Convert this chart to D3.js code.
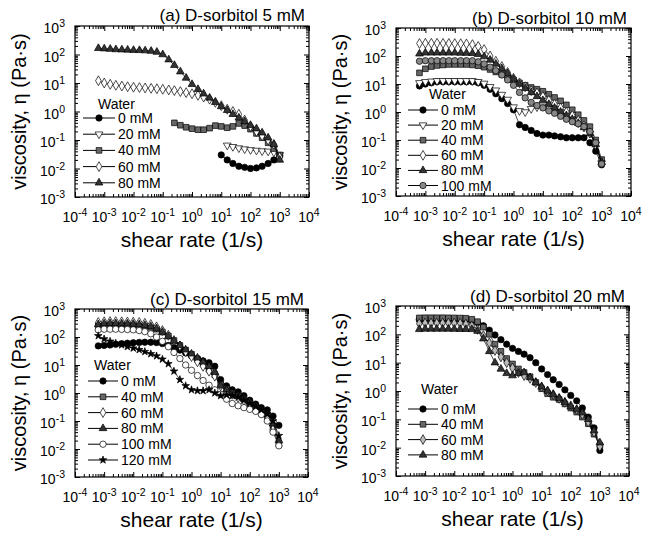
<!DOCTYPE html>
<html>
<head>
<meta charset="utf-8">
<script src="https://cdn.jsdelivr.net/npm/d3@7"></script>
<style>
body { margin: 0; background: #fff; }
text { font-family: "Liberation Sans", Arial, sans-serif; fill: #000; }
</style>
</head>
<body>
<svg id="chart" width="653" height="533"></svg>
<script>
var _ = null;

// shear rate grid (1/s), shared by every series
var shearRate = [0.00063, 0.001, 0.0016, 0.0025, 0.004, 0.0063, 0.01, 0.016, 0.025, 0.04, 0.063, 0.1,
	0.16, 0.25, 0.4, 0.63, 1, 1.6, 2.5, 4, 6.3, 10, 16, 25, 40, 63, 100, 160, 250, 400, 630, 1000];

var xTickValues = [1e-4, 1e-3, 1e-2, 1e-1, 1, 1e1, 1e2, 1e3, 1e4];
var xTickExp = ["-4", "-3", "-2", "-1", "0", "1", "2", "3", "4"];
var yTickValues = [1e-3, 1e-2, 1e-1, 1, 1e1, 1e2, 1e3];
var yTickExp = ["-3", "-2", "-1", "0", "1", "2", "3"];

// (a) D-sorbitol 5 mM, viscosity (Pa.s)
var a0 = [_,_,_,_,_,_,_,_,_,_,_,_,_,_,_,_,_,_,_,_,_, 0.03,0.02,0.015,0.012,0.011,0.01,0.0105,0.012,0.015,0.02,0.028];
var a20 = [_,_,_,_,_,_,_,_,_,_,_,_,_,_,_,_,_,_,_,_,_,_, 0.065,0.058,0.052,0.048,0.045,0.043,0.041,0.04,0.037,0.03];
var a40 = [_,_,_,_,_,_,_,_,_,_,_,_,_, 0.4,0.33,0.28,0.25,0.23,0.23,0.26,0.32,0.3,0.27,0.3,0.38,0.32,0.24,0.17,0.12,0.08,0.05,0.03];
var a60 = [12,10,9,8.3,7.8,7.4,7.1,6.9,6.7,6.5,6.3,6.0,5.7,5.4,5.0,4.6,4.2,3.7,3.2,2.7,2.1,1.6,1.2,1.0,0.8,0.5,0.3,0.2,0.14,0.1,0.07,0.025];
var a80 = [165,160,155,150,148,145,142,140,137,132,122,100,66,42,25,15,9,6,4.2,3,2.1,1.5,1.1,0.8,0.6,0.45,0.33,0.25,0.18,0.12,0.07,0.02];

// (b) D-sorbitol 10 mM
var b0 = [8.5,10,11,12,12,12,12,12,12,12,11,9,6.5,4.5,3,2,1.2,0.35,0.28,0.22,0.17,0.15,0.15,0.14,0.13,0.12,0.12,0.12,0.12,0.08,0.04,0.013];
var b20 = [11,12,12.5,13,13,13,13,13,13,13,12,10.5,8,6,4.2,2.8,1.5,1.1,1.0,1.3,1.5,1.6,1.5,1.3,1.0,0.75,0.55,0.4,0.28,0.17,0.07,0.015];
var b40 = [25,35,42,46,48,50,50,50,50,48,45,40,33,27,22,18,14,11,9,7.5,6.5,5.5,4.3,3.3,2.5,1.8,1.2,0.8,0.5,0.3,0.1,0.02];
var b60 = [280,285,285,285,283,280,278,275,270,255,220,170,100,65,42,26,16,11,8,5.8,4.8,3.6,2.6,1.9,1.4,1.0,0.75,0.5,0.32,0.18,0.07,0.015];
var b80 = [120,130,130,130,130,130,130,128,127,125,115,95,72,52,36,24,15,10,7,5,3.6,2.6,1.9,1.4,1.0,0.75,0.55,0.4,0.28,0.17,0.07,0.016];
var b100 = [65,68,68,68,68,68,68,68,68,68,62,52,40,30,21,14,9,5,3.2,2.2,1.7,1.4,1.1,0.9,0.7,0.55,0.45,0.38,0.3,0.2,0.08,0.014];

// (c) D-sorbitol 15 mM
var c0 = [48,50,52,55,58,60,62,64,65,65,63,58,50,42,34,27,21,17,14,12,9,3,1.8,1.3,1.1,0.8,0.55,0.4,0.3,0.25,0.15,0.07];
var c40 = [250,260,265,265,262,258,255,250,240,220,190,150,110,75,50,34,24,16,11,7,4.5,2,1.4,1.0,0.8,0.6,0.45,0.32,0.22,0.13,0.05,0.015];
var c60 = [330,350,355,355,350,345,340,330,310,280,230,170,115,75,48,30,20,13,9,6,4,1.8,1.2,0.9,0.7,0.55,0.42,0.3,0.2,0.12,0.05,0.02];
var c80 = [280,300,305,305,300,295,290,280,265,240,200,150,105,72,50,35,25,18,13,9,5.5,1.8,1.3,1.0,0.8,0.62,0.48,0.36,0.26,0.18,0.08,0.02];
var c100 = [180,190,190,190,188,185,180,170,155,130,100,70,45,28,17,10,6.5,4.2,2.8,1.9,1.3,0.9,0.6,0.42,0.35,0.3,0.26,0.22,0.17,0.1,0.04,0.013];
var c120 = [110,85,70,60,52,45,40,35,30,25,21,16,11,6,3,1.8,1.3,1.2,1.2,1.3,1.0,0.8,0.85,0.8,0.7,0.55,0.42,0.33,0.25,0.18,0.1,0.03];

// (d) D-sorbitol 20 mM
var d0 = [330,330,330,330,330,330,328,325,320,300,260,200,140,95,65,45,32,25,20,15,10,6,3.8,2.5,1.7,1.1,0.7,0.45,0.25,0.12,0.05,0.008];
var d40 = [380,385,385,385,385,383,380,375,370,340,280,180,100,45,25,14,9,6,4.5,3.2,2.0,1.2,0.8,0.6,0.5,0.35,0.25,0.18,0.12,0.07,0.03,0.012];
var d60 = [240,250,250,250,250,250,248,245,230,200,150,90,50,27,16,10,6.5,4.5,3.5,2.8,2.0,1.4,1.0,0.75,0.55,0.4,0.3,0.22,0.15,0.08,0.035,0.011];
var d80 = [150,155,155,155,155,155,153,152,151,150,130,70,25,10,6,4.2,3.5,4.2,4.5,3,2,1.4,1.0,0.75,0.55,0.4,0.28,0.22,0.17,0.1,0.04,0.015];

var symInvTri = {
	draw: function(ctx, size) {
		var s = Math.sqrt(size / (Math.sqrt(3) / 4));
		var h = s * Math.sqrt(3) / 2;
		ctx.moveTo(-s / 2, -h / 3);
		ctx.lineTo(s / 2, -h / 3);
		ctx.lineTo(0, 2 * h / 3);
		ctx.closePath();
	}
};

var panels = [
	{ title: "(a) D-sorbitol 5 mM", box: [75, 26, 309, 197], titleY: 21,
		legend: { x1: 83, x2: 115, wx: 98, wy: 109, y0: 118, dy: 16.2 },
		series: [
			["0 mM", a0, d3.symbolCircle, "#000"],
			["20 mM", a20, symInvTri, "#fff"],
			["40 mM", a40, d3.symbolSquare, "#666"],
			["60 mM", a60, d3.symbolDiamond, "#fff"],
			["80 mM", a80, d3.symbolTriangle, "#333"]
		] },
	{ title: "(b) D-sorbitol 10 mM", box: [396, 28, 631, 196], titleY: 24,
		legend: { x1: 408, x2: 438, wx: 429, wy: 99, y0: 110, dy: 15.1 },
		series: [
			["0 mM", b0, d3.symbolCircle, "#000"],
			["20 mM", b20, symInvTri, "#fff"],
			["40 mM", b40, d3.symbolSquare, "#666"],
			["60 mM", b60, d3.symbolDiamond, "#fff"],
			["80 mM", b80, d3.symbolTriangle, "#333"],
			["100 mM", b100, d3.symbolCircle, "#888"]
		] },
	{ title: "(c) D-sorbitol 15 mM", box: [75, 309, 308, 477], titleY: 305,
		legend: { x1: 88, x2: 118, wx: 94, wy: 370, y0: 381, dy: 15.8 },
		series: [
			["0 mM", c0, d3.symbolCircle, "#000"],
			["40 mM", c40, d3.symbolSquare, "#666"],
			["60 mM", c60, d3.symbolDiamond, "#fff"],
			["80 mM", c80, d3.symbolTriangle, "#333"],
			["100 mM", c100, d3.symbolCircle, "#fff"],
			["120 mM", c120, d3.symbolStar, "#000"]
		] },
	{ title: "(d) D-sorbitol 20 mM", box: [396, 306, 629, 476], titleY: 302,
		legend: { x1: 408, x2: 438, wx: 421, wy: 394, y0: 409, dy: 15.3 },
		series: [
			["0 mM", d0, d3.symbolCircle, "#000"],
			["40 mM", d40, d3.symbolSquare, "#666"],
			["60 mM", d60, d3.symbolDiamond, "#bbb"],
			["80 mM", d80, d3.symbolTriangle, "#333"]
		] }
];

var symSize = function(sym) {
	if (sym === d3.symbolCircle) return 32;
	if (sym === d3.symbolSquare) return 32;
	if (sym === d3.symbolDiamond) return 28;
	if (sym === d3.symbolStar) return 18;
	return 26;
};

// minor log ticks 2..9 in every decade
function minorTicks(lo, hi) {
	var out = [];
	for (var k = lo; k < hi; k++) {
		for (var m = 2; m <= 9; m++) out.push(m * Math.pow(10, k));
	}
	return out;
}

var svg = d3.select("#chart");

panels.forEach(function(p) {
	var L = p.box[0], T = p.box[1], R = p.box[2], B = p.box[3];
	var x = d3.scaleLog().domain([1e-4, 1e4]).range([L, R]);
	var y = d3.scaleLog().domain([1e-3, 1e3]).range([B, T]);
	var g = svg.append("g");

	var xMinor = minorTicks(-4, 4), yMinor = minorTicks(-3, 3);
	function axisG(axis, tx, ty) {
		g.append("g").attr("transform", "translate(" + tx + "," + ty + ")")
			.call(axis)
			.call(function(s) { s.select(".domain").remove(); s.selectAll("line").attr("stroke", "#000"); });
	}
	axisG(d3.axisBottom(x).tickValues(xTickValues).tickSize(-5).tickFormat(""), 0, B);
	axisG(d3.axisBottom(x).tickValues(xMinor).tickSize(-3).tickFormat(""), 0, B);
	axisG(d3.axisTop(x).tickValues(xTickValues).tickSize(-5).tickFormat(""), 0, T);
	axisG(d3.axisTop(x).tickValues(xMinor).tickSize(-3).tickFormat(""), 0, T);
	axisG(d3.axisLeft(y).tickValues(yTickValues).tickSize(-5).tickFormat(""), L, 0);
	axisG(d3.axisLeft(y).tickValues(yMinor).tickSize(-3).tickFormat(""), L, 0);
	axisG(d3.axisRight(y).tickValues(yTickValues).tickSize(-5).tickFormat(""), R, 0);
	axisG(d3.axisRight(y).tickValues(yMinor).tickSize(-3).tickFormat(""), R, 0);

	g.append("rect").attr("x", L).attr("y", T).attr("width", R - L).attr("height", B - T)
		.attr("fill", "none").attr("stroke", "#000").attr("stroke-width", 1.2);

	// tick labels 10^n
	var xl = g.selectAll(".xl").data(xTickValues).enter().append("text")
		.attr("x", function(d) { return x(d); }).attr("y", B + 25)
		.attr("text-anchor", "middle").attr("font-size", 14);
	xl.append("tspan").text("10");
	xl.append("tspan").attr("font-size", 10.5).attr("dy", -6).text(function(d, i) { return xTickExp[i]; });

	var yl = g.selectAll(".yl").data(yTickValues).enter().append("text")
		.attr("x", L - 10).attr("y", function(d) { return y(d) + 7; })
		.attr("text-anchor", "end").attr("font-size", 14);
	yl.append("tspan").text("10");
	yl.append("tspan").attr("font-size", 10.5).attr("dy", -6).text(function(d, i) { return yTickExp[i]; });

	g.append("text").attr("x", (L + R) / 2).attr("y", B + 50).attr("text-anchor", "middle")
		.attr("font-size", 21).text("shear rate (1/s)");
	g.append("text").attr("transform", "translate(" + (L - 49) + "," + ((T + B) / 2) + ") rotate(-90)")
		.attr("text-anchor", "middle").attr("font-size", 20).text("viscosity, η (Pa·s)");
	g.append("text").attr("x", R - 4).attr("y", p.titleY).attr("text-anchor", "end")
		.attr("font-size", 17).text(p.title);

	var line = d3.line()
		.defined(function(d) { return d[1] != null; })
		.x(function(d) { return x(d[0]); })
		.y(function(d) { return y(d[1]); });

	p.series.forEach(function(s) {
		var pts = shearRate.map(function(r, i) { return [r, s[1][i]]; });
		g.append("path").datum(pts).attr("d", line)
			.attr("fill", "none").attr("stroke", "#000").attr("stroke-width", 0.7);
		var sym = d3.symbol().type(s[2]).size(symSize(s[2]));
		g.selectAll(null).data(pts.filter(function(d) { return d[1] != null; })).enter()
			.append("path").attr("d", sym)
			.attr("transform", function(d) { return "translate(" + x(d[0]) + "," + y(d[1]) + ")"; })
			.attr("fill", s[3]).attr("stroke", "#000").attr("stroke-width", 0.7);
	});

	// legend
	var lg = p.legend;
	g.append("text").attr("x", lg.wx).attr("y", lg.wy).attr("font-size", 14).text("Water");
	p.series.forEach(function(s, i) {
		var yy = lg.y0 + i * lg.dy;
		g.append("line").attr("x1", lg.x1).attr("x2", lg.x2).attr("y1", yy).attr("y2", yy)
			.attr("stroke", "#000").attr("stroke-width", 1);
		g.append("path").attr("d", d3.symbol().type(s[2]).size(symSize(s[2])))
			.attr("transform", "translate(" + ((lg.x1 + lg.x2) / 2) + "," + yy + ")")
			.attr("fill", s[3]).attr("stroke", "#000").attr("stroke-width", 0.7);
		g.append("text").attr("x", lg.x2 + 3).attr("y", yy + 5).attr("font-size", 14).text(s[0]);
	});
});
</script>
</body>
</html>
